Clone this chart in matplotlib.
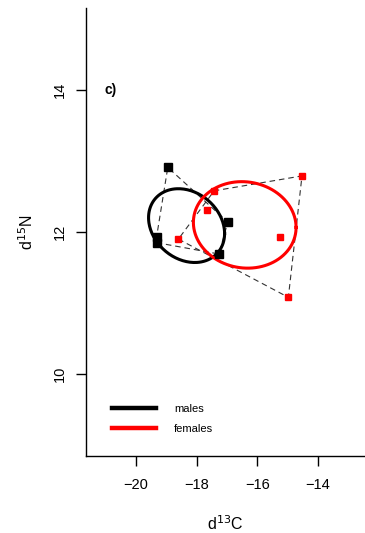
import numpy as np
import matplotlib
matplotlib.use("Agg")
import matplotlib.pyplot as plt

plt.rcParams['font.family'] = ['Liberation Sans', 'DejaVu Sans']

# isotope values per individual
male_c = [-18.95, -19.32, -19.32, -16.97, -17.26]
male_n = [12.91, 11.93, 11.85, 12.14, 11.69]
female_c = [-14.52, -17.42, -17.67, -18.60, -15.25, -14.97]
female_n = [12.79, 12.58, 12.31, 11.90, 11.93, 11.08]

# standard ellipses: centre and covariance-like shape matrix
male_centre = [-18.33, 12.09]
male_shape = [[1.575, -0.14], [-0.14, 0.27]]
female_centre = [-16.41, 12.10]
female_shape = [[2.873, -0.06], [-0.06, 0.371]]

group_names = ["males", "females"]
group_cols = ["black", "red"]


def hull(x, y):
    # monotone chain hull for a handful of points
    pts = sorted(set(zip(x, y)))
    def cross(o, a, b):
        return (a[0]-o[0])*(b[1]-o[1]) - (a[1]-o[1])*(b[0]-o[0])
    lower, upper = [], []
    for p in pts:
        while len(lower) >= 2 and cross(lower[-2], lower[-1], p) <= 0:
            lower.pop()
        lower.append(p)
    for p in reversed(pts):
        while len(upper) >= 2 and cross(upper[-2], upper[-1], p) <= 0:
            upper.pop()
        upper.append(p)
    h = lower[:-1] + upper[:-1]
    h.append(h[0])
    return [p[0] for p in h], [p[1] for p in h]


def ellipse(centre, shape, n=200):
    t = np.linspace(0, 2*np.pi, n)
    L = np.linalg.cholesky(np.array(shape))
    xy = L @ np.vstack([np.cos(t), np.sin(t)])
    return xy[0] + centre[0], xy[1] + centre[1]


fig = plt.figure(figsize=(3.65, 5.33), dpi=100)
ax = fig.add_axes([86/365, 77/533, 279/365, 448/533])

for x, y in [(male_c, male_n), (female_c, female_n)]:
    hx, hy = hull(x, y)
    ax.plot(hx, hy, ls=(0, (5, 3.5)), color="#333333", lw=0.8, zorder=1)

for (c, s), col in zip([(male_centre, male_shape), (female_centre, female_shape)], group_cols):
    ex, ey = ellipse(c, s)
    ax.plot(ex, ey, color=col, lw=2.2, zorder=2)

ax.plot(male_c, male_n, 's', color="black", ms=5.2, zorder=3)
ax.plot(female_c, female_n, 's', color="red", ms=4.8, zorder=3)

ax.set_xlim(-21.65, -12.44)
ax.set_ylim(8.845, 15.155)
ax.set_xticks([-20, -18, -16, -14])
ax.set_yticks([10, 12, 14])
ax.set_xticklabels(["\u221220", "\u221218", "\u221216", "\u221214"])
ax.set_yticklabels(["10", "12", "14"], rotation=90, va="center")
ax.spines["top"].set_visible(False)
ax.spines["right"].set_visible(False)
for sp in ax.spines.values():
    sp.set_linewidth(1.0)
ax.tick_params(length=7, width=1.0, labelsize=10.5)
ax.tick_params(axis="x", pad=9)
ax.tick_params(axis="y", pad=7)

ax.set_xlabel("d$^{13}$C", fontsize=11.5, labelpad=16)
ax.set_ylabel("d$^{15}$N", fontsize=11.5, labelpad=12)

ax.text(-21.05, 14.0, "c)", fontsize=10, fontweight="bold", va="center")

ax.legend([plt.Line2D([], [], color=c, lw=3.2) for c in group_cols], group_names,
          loc="lower left", bbox_to_anchor=(0.093, 0.05), frameon=False,
          borderpad=0, borderaxespad=0,
          fontsize=8, handlelength=4, handletextpad=1.6, labelspacing=0.9)

fig.savefig("out.png", dpi=100)
